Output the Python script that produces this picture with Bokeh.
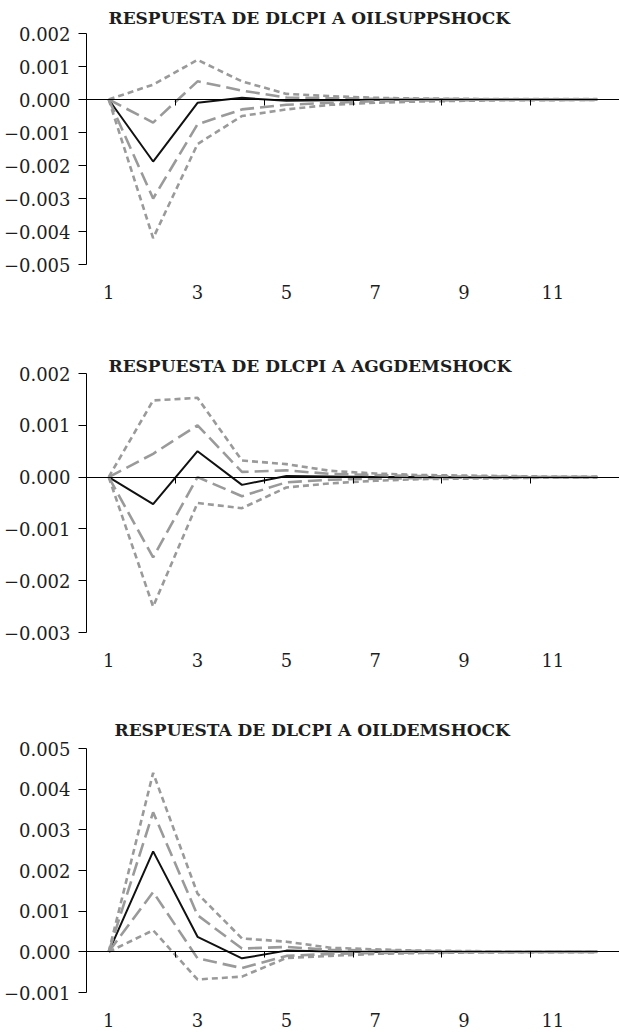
from bokeh.plotting import figure
from bokeh.layouts import column
from bokeh.models import Range1d, FixedTicker, LinearAxis, CustomJSTickFormatter, Title
from bokeh.embed import file_html
from bokeh.resources import INLINE

# ---------------- data ----------------
periods = [1, 2, 3, 4, 5, 6, 7, 8, 9, 10, 11, 12]
x_label_ticks = [1, 3, 5, 7, 9, 11]
x_zero_ticks = [2.5, 4.5, 6.5, 8.5, 10.5]

titles = [
    "RESPUESTA DE DLCPI A OILSUPPSHOCK",
    "RESPUESTA DE DLCPI A AGGDEMSHOCK",
    "RESPUESTA DE DLCPI A OILDEMSHOCK",
]

# panel 1: oil supply shock
resp_1 = [0, -0.00188, -0.0001, 0.00005, -0.00004, -0.00002, -0.00001, 0, 0, 0, 0, 0]
up90_1 = [0, 0.00045, 0.0012, 0.00055, 0.00017, 0.0001, 0.00005, 0.00003, 0.00002, 0.00001, 0.00001, 0.00001]
up68_1 = [0, -0.0007, 0.00055, 0.00027, 0.00006, 0.00004, 0.00002, 0.00001, 0.00001, 0, 0, 0]
lo68_1 = [0, -0.003, -0.00075, -0.0003, -0.00016, -0.0001, -0.00005, -0.00003, -0.00002, -0.00001, -0.00001, -0.00001]
lo90_1 = [0, -0.0042, -0.00135, -0.0005, -0.0003, -0.00016, -0.0001, -0.00006, -0.00004, -0.00002, -0.00002, -0.00001]
yticks_1 = [-0.005, -0.004, -0.003, -0.002, -0.001, 0.0, 0.001, 0.002]

# panel 2: aggregate demand shock
resp_2 = [0, -0.00052, 0.0005, -0.00015, 0.00002, 0.00001, 0, 0, 0, 0, 0, 0]
up90_2 = [0, 0.00148, 0.00153, 0.00032, 0.00025, 0.00012, 0.00007, 0.00004, 0.00003, 0.00002, 0.00001, 0.00001]
up68_2 = [0, 0.00045, 0.001, 0.0001, 0.00013, 0.00006, 0.00004, 0.00002, 0.00001, 0.00001, 0, 0]
lo68_2 = [0, -0.00155, 0.0, -0.00037, -0.0001, -0.00005, -0.00003, -0.00002, -0.00001, -0.00001, 0, 0]
lo90_2 = [0, -0.0025, -0.0005, -0.0006, -0.0002, -0.00012, -0.00007, -0.00004, -0.00003, -0.00002, -0.00001, -0.00001]
yticks_2 = [-0.003, -0.002, -0.001, 0.0, 0.001, 0.002]

# panel 3: oil-specific demand shock
resp_3 = [0, 0.00247, 0.00037, -0.00016, 0.00003, 0.00001, 0, 0, 0, 0, 0, 0]
up90_3 = [0, 0.0044, 0.00143, 0.00033, 0.00025, 0.0001, 0.00006, 0.00003, 0.00002, 0.00001, 0.00001, 0.00001]
up68_3 = [0, 0.00343, 0.0009, 0.00008, 0.00012, 0.00005, 0.00003, 0.00002, 0.00001, 0, 0, 0]
lo68_3 = [0, 0.00147, -0.00016, -0.0004, -0.0001, -0.00005, -0.00003, -0.00002, -0.00001, -0.00001, 0, 0]
lo90_3 = [0, 0.00053, -0.00068, -0.00061, -0.00015, -0.0001, -0.00005, -0.00003, -0.00002, -0.00001, -0.00001, -0.00001]
yticks_3 = [-0.001, 0.0, 0.001, 0.002, 0.003, 0.004, 0.005]

# ---------------- style ----------------
FONT = "DejaVu Serif"
GRAY = "#9a9a9a"
TXT = "#1e1e1e"

fmt_code = """
const a = Math.abs(tick);
const s = a.toFixed(3);
return (tick < -1e-12 ? '\u2212' : '') + s;
"""


def make_panel(title, resp, up90, up68, lo68, lo90, yticks, height, btop, bbottom,
               t_standoff, t_offset):
    p = figure(width=619, height=height, output_backend="svg", toolbar_location=None,
               x_range=Range1d(0.5, 12.5), y_range=Range1d(yticks[0], yticks[-1]),
               x_axis_location=None, y_axis_location=None,
               min_border_left=85, min_border_right=0,
               min_border_top=btop, min_border_bottom=bbottom,
               outline_line_color=None, background_fill_color="white",
               border_fill_color="white")
    p.grid.visible = False

    p.title = Title(text=title, align="left", offset=t_offset, standoff=t_standoff,
                    text_font=FONT, text_font_style="bold", text_font_size="17px",
                    text_color=TXT)

    yaxis = LinearAxis(ticker=FixedTicker(ticks=yticks),
                       formatter=CustomJSTickFormatter(code=fmt_code),
                       axis_line_color="black", axis_line_width=1,
                       major_tick_out=8, major_tick_in=0, major_tick_line_color="black",
                       minor_tick_line_color=None,
                       major_label_standoff=8,
                       major_label_text_font=FONT, major_label_text_font_size="18px",
                       major_label_text_color=TXT)
    p.add_layout(yaxis, "left")

    xlab = LinearAxis(ticker=FixedTicker(ticks=x_label_ticks),
                      axis_line_color=None, major_tick_line_color=None,
                      minor_tick_line_color=None, major_label_standoff=14,
                      major_label_text_font=FONT, major_label_text_font_size="18px",
                      major_label_text_color=TXT)
    p.add_layout(xlab, "below")

    zaxis = LinearAxis(fixed_location=0, ticker=FixedTicker(ticks=x_zero_ticks),
                       formatter=CustomJSTickFormatter(code="return '';"),
                       axis_line_color="black", axis_line_width=1,
                       major_tick_out=6, major_tick_in=0, major_tick_line_color="black",
                       minor_tick_line_color=None)
    p.add_layout(zaxis, "below")

    p.line(periods, resp, line_color="#111111", line_width=2)
    p.line(periods, up90, line_color=GRAY, line_width=2.6, line_dash="6 4")
    p.line(periods, lo90, line_color=GRAY, line_width=2.6, line_dash="6 4")
    p.line(periods, up68, line_color=GRAY, line_width=2.6, line_dash="14 6")
    p.line(periods, lo68, line_color=GRAY, line_width=2.6, line_dash="14 6")
    return p


p1 = make_panel(titles[0], resp_1, up90_1, up68_1, lo68_1, lo90_1, yticks_1,
                330, 33, 66, 11, 22)
p2 = make_panel(titles[1], resp_2, up90_2, up68_2, lo68_2, lo90_2, yticks_2,
                370, 43, 68, -5, 22)
p3 = make_panel(titles[2], resp_3, up90_3, up68_3, lo68_3, lo90_3, yticks_3,
                330, 48, 38, 18, 28)

layout = column(p1, p2, p3, spacing=0)
open("out.html", "w").write(file_html(layout, INLINE))
